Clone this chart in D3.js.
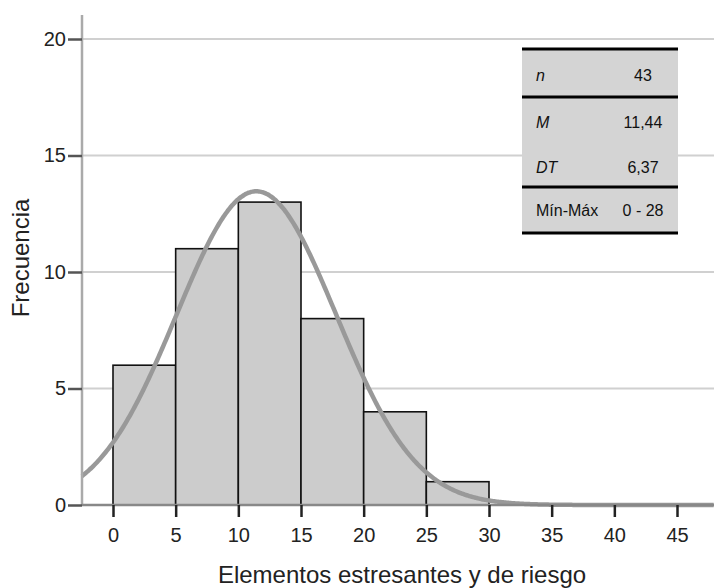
<!DOCTYPE html>
<html><head><meta charset="utf-8">
<script src="https://cdn.jsdelivr.net/npm/d3@7"></script>
<style>body{margin:0;background:#fff}svg{display:block}text{font-family:"Liberation Sans",Arial,sans-serif}</style>
</head><body><svg id="c" width="714" height="588"></svg>
<script>
const binStarts = [0, 5, 10, 15, 20, 25];
const binWidth = 5;
const counts = [6, 11, 13, 8, 4, 1];
const xTicks = [0, 5, 10, 15, 20, 25, 30, 35, 40, 45];
const yTicks = [0, 5, 10, 15, 20];
const statLabels = ["n", "M", "DT", "Mín-Máx"];
const statValues = ["43", "11,44", "6,37", "0 - 28"];
const nObs = 43, mean = 11.44, sd = 6.37;

const svg = d3.select("#c");
const x = d3.scaleLinear().domain([0, 45]).range([113, 677]);
const y = d3.scaleLinear().domain([0, 20]).range([505, 39]);
const xMin = x.invert(82), xMax = x.invert(714);

// gridlines
svg.append("g").selectAll("line").data(yTicks.filter(d => d > 0)).join("line")
  .attr("x1", 82).attr("x2", 714).attr("y1", d => y(d)).attr("y2", d => y(d))
  .attr("stroke", "#d0d0d0").attr("stroke-width", 2);

// bars
svg.append("g").selectAll("rect").data(counts).join("rect")
  .attr("x", (d, i) => x(binStarts[i]))
  .attr("width", (d, i) => x(binStarts[i] + binWidth) - x(binStarts[i]))
  .attr("y", d => y(d)).attr("height", d => y(0) - y(d))
  .attr("fill", "#cccccc").attr("stroke", "#111").attr("stroke-width", 1.6);

// normal curve
const pts = d3.range(xMin, xMax + 0.01, 0.1).map(v => [v,
  nObs * binWidth / (sd * Math.sqrt(2 * Math.PI)) * Math.exp(-0.5 * ((v - mean) / sd) ** 2)]);
svg.append("path").datum(pts)
  .attr("d", d3.line().x(d => x(d[0])).y(d => y(d[1])).curve(d3.curveBasis))
  .attr("fill", "none").attr("stroke", "#999").attr("stroke-width", 4.5);

// axes lines
svg.append("line").attr("x1", 82).attr("x2", 82).attr("y1", 15).attr("y2", 506)
  .attr("stroke", "#aaa").attr("stroke-width", 2.5);
svg.append("line").attr("x1", 82).attr("x2", 714).attr("y1", 505).attr("y2", 505)
  .attr("stroke", "#888").attr("stroke-width", 2.5);

// y axis
const yAxis = svg.append("g").attr("transform", "translate(82,0)")
  .call(d3.axisLeft(y).tickValues(yTicks).tickSize(14).tickPadding(2).tickFormat(d3.format("d")));
yAxis.select(".domain").remove();
yAxis.selectAll(".tick line").attr("stroke", "#555").attr("stroke-width", 2.5);
yAxis.selectAll("text").attr("font-size", 20).attr("fill", "#222");

// x axis
const xAxis = svg.append("g").attr("transform", "translate(0,505)")
  .call(d3.axisBottom(x).tickValues(xTicks).tickSize(12).tickPadding(11).tickFormat(d3.format("d")));
xAxis.select(".domain").remove();
xAxis.selectAll(".tick line").attr("stroke", "#222").attr("stroke-width", 2.5);
xAxis.selectAll("text").attr("font-size", 20).attr("fill", "#222");

// axis titles
svg.append("text").attr("x", 402).attr("y", 583).attr("text-anchor", "middle")
  .attr("font-size", 24).attr("fill", "#222").text("Elementos estresantes y de riesgo");
svg.append("text").attr("transform", "translate(29,258) rotate(-90)").attr("text-anchor", "middle")
  .attr("font-size", 24).attr("fill", "#222").text("Frecuencia");

// stats table
const tb = svg.append("g");
const tx0 = 522, tx1 = 678;
tb.append("rect").attr("x", tx0).attr("y", 49).attr("width", tx1 - tx0).attr("height", 185).attr("fill", "#d4d4d4");
const rowY = [75, 122, 167, 210];
statLabels.forEach((lab, i) => {
  tb.append("text").attr("x", 536).attr("y", rowY[i] + 6).attr("font-size", 16)
    .attr("font-style", i < 3 ? "italic" : "normal").attr("fill", "#111").text(lab);
  tb.append("text").attr("x", 643).attr("y", rowY[i] + 6).attr("font-size", 16)
    .attr("text-anchor", "middle").attr("fill", "#111").text(statValues[i]);
});
[49, 97, 187, 233].forEach(ly => tb.append("line").attr("x1", tx0).attr("x2", tx1)
  .attr("y1", ly).attr("y2", ly).attr("stroke", "#000").attr("stroke-width", 3));
</script></body></html>
